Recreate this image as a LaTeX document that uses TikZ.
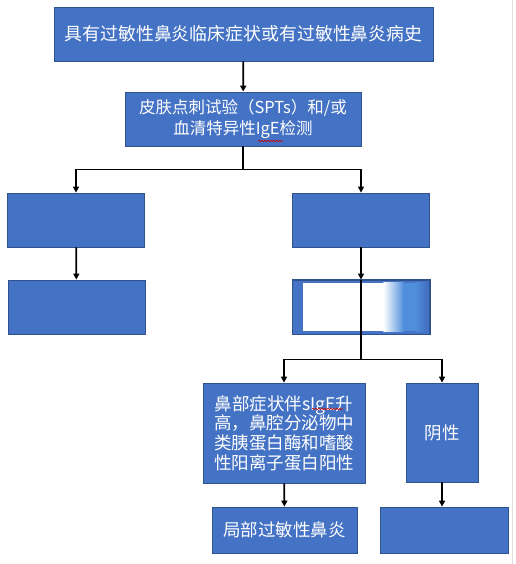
\documentclass[tikz,border=0pt]{standalone}
\usepackage{fontspec}
\newfontfamily\cjk{Noto Sans CJK SC}
\usetikzlibrary{arrows.meta,decorations.pathmorphing}
\definecolor{boxblue}{HTML}{4472C4}
\definecolor{boxedge}{HTML}{2F528F}
\definecolor{lightblue}{HTML}{4F8EDB}
\tikzset{
  box/.style={draw=boxedge, line width=0.8pt, fill=boxblue, text=white, align=center, inner sep=2pt, font=\cjk},
  conn/.style={line width=1.8pt, black},
  arr/.style={conn, -{Triangle[length=6pt,width=6pt]}},
  squiggle/.style={red!80!black, line width=0.6pt, decorate, decoration={snake, amplitude=0.8pt, segment length=3pt}}
}
\begin{document}
\begin{tikzpicture}[x=1pt,y=-1pt]
\useasboundingbox (0,0) rectangle (515,564);
\fill[white] (0,0) rectangle (515,564);
\draw[black!12, line width=0.8pt] (512,0) -- (512,564);
% boxes
\node[box, minimum width=379pt, minimum height=54pt, font=\cjk\fontsize{17.9pt}{20pt}\selectfont] (b1) at (243.5,34) {具有过敏性鼻炎临床症状或有过敏性鼻炎病史};
\node[box, minimum width=236pt, minimum height=54pt, font=\cjk\fontsize{16.5pt}{21pt}\selectfont] (b2) at (243,119) {皮肤点刺试验（SPTs）和/或\\血清特异性IgE检测};
\node[box, minimum width=137pt, minimum height=54pt] (b3) at (76,220) {};
\node[box, minimum width=137pt, minimum height=54pt] (b4) at (361,220) {};
\node[box, minimum width=137pt, minimum height=54pt] (b5) at (76.5,307) {};
\node[box, minimum width=137pt, minimum height=54pt] (b6) at (361,307) {};
\fill[white] ([xshift=11pt,yshift=-3pt]b6.north west) rectangle ([xshift=-46pt,yshift=3pt]b6.south east);
\shade[left color=white, right color=lightblue] ([xshift=-46.5pt,yshift=-3pt]b6.north east) rectangle ([xshift=-26pt,yshift=3pt]b6.south east);
\fill[lightblue] ([xshift=-26.5pt,yshift=-3pt]b6.north east) rectangle ([xshift=-14pt,yshift=3pt]b6.south east);
\shade[left color=lightblue, right color=boxblue] ([xshift=-14.5pt,yshift=-3pt]b6.north east) rectangle ([xshift=-4pt,yshift=3pt]b6.south east);
\draw[boxedge, line width=0.8pt] (b6.north west) rectangle (b6.south east);
\node[box, minimum width=162pt, minimum height=100pt, font=\cjk\fontsize{17.5pt}{19.7pt}\selectfont] (b7) at (284,433) {鼻部症状伴sIgE升\\高，鼻腔分泌物中\\类胰蛋白酶和嗜酸\\性阳离子蛋白阳性};
\node[box, minimum width=72pt, minimum height=99pt, font=\cjk\fontsize{17.5pt}{20pt}\selectfont] (b8) at (442,432.5) {阴性};
\node[box, minimum width=145pt, minimum height=46pt, font=\cjk\fontsize{17.5pt}{20pt}\selectfont] (b9) at (284.5,530) {局部过敏性鼻炎};
\node[box, minimum width=128pt, minimum height=46pt] (b10) at (444,530) {};
% squiggles
\draw[squiggle] (258,141) -- (283,141);
\draw[squiggle] (312,409) -- (343,409);
% connectors
\draw[arr] (b1) -- (b2);
\draw[conn] (b2.south) -- ++(0,23) coordinate (j1);
\draw[arr] (j1) -| (b3);
\draw[arr] (j1) -| (b4);
\draw[arr] (b3) -- (b5);
\draw[arr] (b4) -- (b6);
\draw[conn, line width=1.2pt] (b6.north) -- (b6.south);
\draw[conn] (b6.south) -- ++(0,25) coordinate (j2);
\draw[arr] (j2) -| (b7);
\draw[arr] (j2) -| (b8);
\draw[arr] (b7) -- (b9);
\draw[arr] (b8.south) -- (b8.south |- b10.north);
\end{tikzpicture}
\end{document}
